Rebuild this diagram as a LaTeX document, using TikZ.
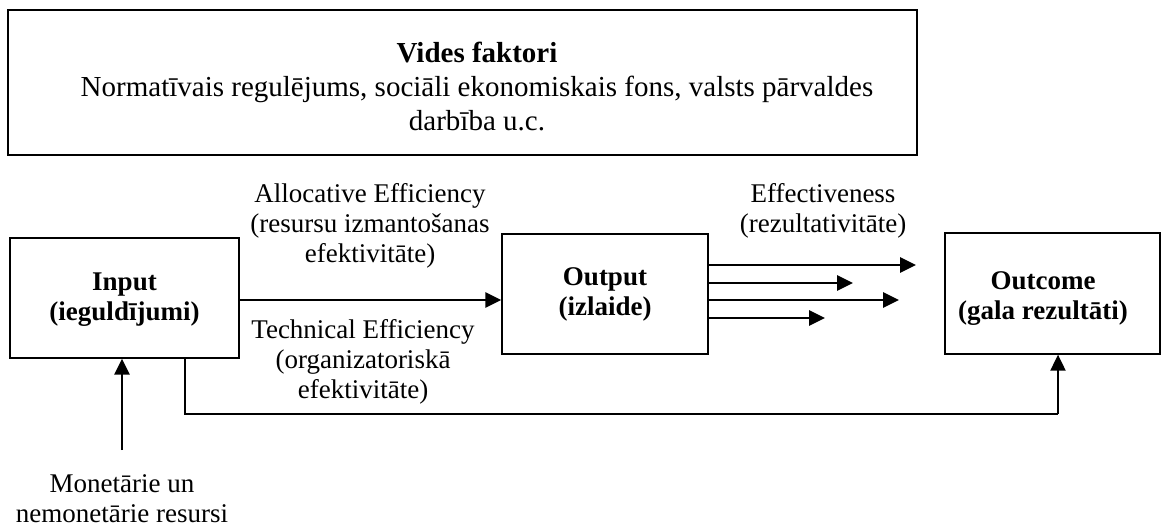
\documentclass[tikz,border=0pt]{standalone}
\usepackage{fontspec}
\setmainfont{Liberation Serif}
\usetikzlibrary{arrows.meta}
\begin{document}
\begin{tikzpicture}[x=1pt,y=-1pt,
  every node/.style={font=\fontsize{27}{30}\selectfont, align=center, inner sep=0pt},
  box/.style={draw, line width=1.3pt},
  arr/.style={line width=2.8pt, -{Triangle[length=16pt,width=15pt]}},
  conn/.style={line width=1.3pt}]
\useasboundingbox (0,0) rectangle (1162,528);
\node[box, minimum width=909pt, minimum height=145pt] (env) at (462.5,82.5) {};
\node[font=\fontsize{29}{34}\selectfont] (envt) at (477,86) {\textbf{Vides faktori}\\Normatīvais regulējums, sociāli ekonomiskais fons, valsts pārvaldes\\darbība u.c.};
\node[box, minimum width=229pt, minimum height=120pt] (in) at (124.5,298) {};
\node (int) at (124.5,300) {\textbf{Input}\\\textbf{(ieguldījumi)}};
\node[box, minimum width=206pt, minimum height=120pt] (out) at (605,294) {\textbf{Output}\\\textbf{(izlaide)}};
\node[box, minimum width=215pt, minimum height=121pt] (oc) at (1052.5,293.5) {};
\node (oct) at (1043,299) {\textbf{Outcome}\\\textbf{(gala rezultāti)}};
\node (alloc) at (370,226) {Allocative Efficiency\\(resursu izmantošanas\\efektivitāte)};
\node (tech) at (363,362) {Technical Efficiency\\(organizatoriskā\\efektivitāte)};
\node (eff) at (823,211) {Effectiveness\\(rezultativitāte)};
\node (mon) at (122,499) {Monetārie un\\nemonetārie resursi};
% input -> output
\draw[arr] (in.east |- 0,300) -- (out.west |- 0,300);
% output fan
\coordinate (e1) at (916,265);
\coordinate (e2) at (853,283);
\coordinate (e3) at (899,300);
\coordinate (e4) at (825,318);
\draw[arr] (out.east |- e1) -- (e1);
\draw[arr] (out.east |- e2) -- (e2);
\draw[arr] (out.east |- e3) -- (e3);
\draw[arr] (out.east |- e4) -- (e4);
% input -> outcome bottom
\coordinate (b1) at (185,414);
\coordinate (b2) at (1058,414);
\draw[conn] (in.south -| b1) -- (b1) -- (b2);
\draw[arr, line width=2pt] (b2) -- (b2 |- oc.south);
% resources -> input
\coordinate (m1) at (122,450);
\draw[arr] (m1) -- (m1 |- in.south);
\end{tikzpicture}
\end{document}
